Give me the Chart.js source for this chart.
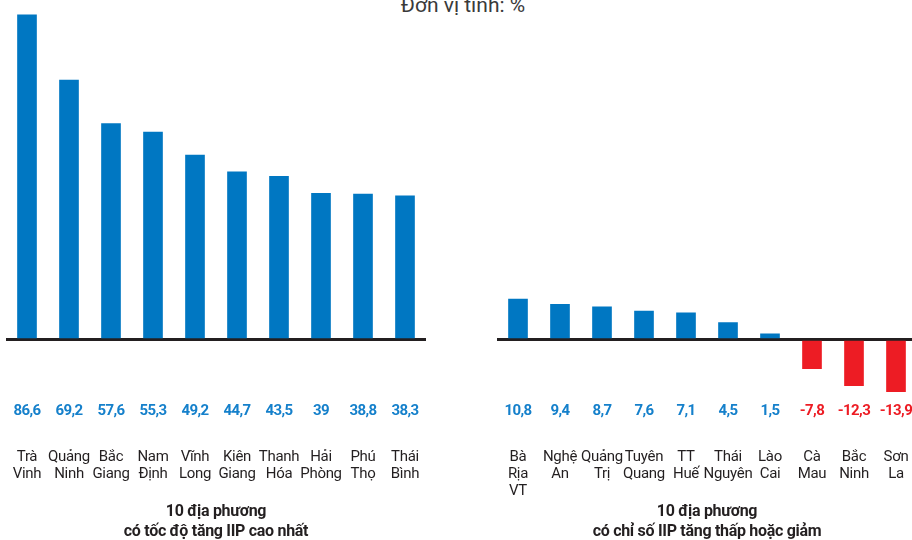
<!DOCTYPE html>
<html lang="vi">
<head>
<meta charset="UTF-8">
<title>IIP địa phương</title>
<script src="https://cdn.jsdelivr.net/npm/chart.js"></script>
<style>
    html, body { margin: 0; padding: 0; background: #fff; }
    .wrap { position: relative; width: 912px; height: 540px; overflow: hidden; }
    .unit { position: absolute; top: -5px; left: 363px; width: 200px; text-align: center;
            font: 21px Roboto, sans-serif; line-height: 21px; color: #3a3a3a; }
    canvas { position: absolute; top: 0; }
    #left { left: 6px; }
    #right { left: 497px; }
</style>
</head>
<body>
<div class="wrap">
    <div class="unit">Đơn vị tính: %</div>
    <canvas id="left" width="420" height="540"></canvas>
    <canvas id="right" width="420" height="540"></canvas>
</div>
<script>
    // Top 10 - highest IIP growth
    const topLabels = [['Trà', 'Vinh'], ['Quảng', 'Ninh'], ['Bắc', 'Giang'], ['Nam', 'Định'], ['Vĩnh', 'Long'],
        ['Kiên', 'Giang'], ['Thanh', 'Hóa'], ['Hải', 'Phòng'], ['Phú', 'Thọ'], ['Thái', 'Bình']];
    const topValues = [86.6, 69.2, 57.6, 55.3, 49.2, 44.7, 43.5, 39, 38.8, 38.3];
    const topTitle = ['10 địa phương', 'có tốc độ tăng IIP cao nhất'];

    // 10 lowest / declining
    const lowLabels = [['Bà', 'Rịa', 'VT'], ['Nghệ', 'An'], ['Quảng', 'Trị'], ['Tuyên', 'Quang'], ['TT', 'Huế'],
        ['Thái', 'Nguyên'], ['Lào', 'Cai'], ['Cà', 'Mau'], ['Bắc', 'Ninh'], ['Sơn', 'La']];
    const lowValues = [10.8, 9.4, 8.7, 7.6, 7.1, 4.5, 1.5, -7.8, -12.3, -13.9];
    const lowTitle = ['10 địa phương', 'có chỉ số IIP tăng thấp hoặc giảm'];

    const BLUE = '#0077c2';
    const RED = '#ed1c24';
    const LABEL_BLUE = '#1580cb';

    // tighter text, the original uses a condensed face
    const tightText = {
        id: 'tightText',
        beforeDraw(chart) { chart.ctx.letterSpacing = '-0.3px'; }
    };

    // value labels under the zero line
    const valueLabels = {
        id: 'valueLabels',
        afterDatasetsDraw(chart) {
            const ctx = chart.ctx;
            const meta = chart.getDatasetMeta(0);
            const vals = chart.data.datasets[0].data;
            ctx.save();
            ctx.font = 'bold 15px Roboto, sans-serif';
            ctx.letterSpacing = '-0.6px';
            ctx.textAlign = 'center';
            ctx.textBaseline = 'middle';
            meta.data.forEach(function(bar, i) {
                const v = vals[i];
                ctx.fillStyle = v < 0 ? RED : LABEL_BLUE;
                ctx.fillText(String(v).replace('.', ','), bar.x, chart.chartArea.bottom + 12);
            });
            ctx.restore();
        }
    };

    function makeChart(id, labels, values, title) {
        return new Chart(document.getElementById(id), {
            type: 'bar',
            data: {
                labels: labels,
                datasets: [{
                    data: values,
                    backgroundColor: values.map(v => v < 0 ? RED : BLUE),
                    barThickness: 19
                }]
            },
            options: {
                responsive: false,
                animation: false,
                layout: { padding: { top: 2, left: 0, right: 0, bottom: 0 } },
                plugins: {
                    legend: { display: false },
                    tooltip: { enabled: false },
                    title: {
                        display: true,
                        position: 'bottom',
                        text: title,
                        color: '#231f20',
                        font: { family: 'Roboto', size: 16, weight: 'bold', lineHeight: 1.25 },
                        padding: { top: 0, bottom: -2 }
                    }
                },
                scales: {
                    x: {
                        grid: {
                            display: true,
                            drawOnChartArea: false,
                            drawTicks: true,
                            tickLength: 49,
                            color: 'rgba(0,0,0,0)'
                        },
                        border: { display: false },
                        ticks: {
                            autoSkip: false,
                            maxRotation: 0,
                            padding: 0,
                            color: '#231f20',
                            font: { family: 'Roboto', size: 15, lineHeight: 1.13 }
                        },
                        afterFit(scale) { scale.height = 102.5; }
                    },
                    y: {
                        min: -16,
                        max: 90,
                        z: 1,
                        ticks: { display: false, stepSize: 10 },
                        border: { display: false },
                        grid: {
                            drawTicks: false,
                            lineWidth: 3,
                            color: c => c.tick && c.tick.value === 0 ? '#231f20' : 'rgba(0,0,0,0)'
                        }
                    }
                }
            },
            plugins: [tightText, valueLabels]
        });
    }

    makeChart('left', topLabels, topValues, topTitle);
    makeChart('right', lowLabels, lowValues, lowTitle);
</script>
</body>
</html>
